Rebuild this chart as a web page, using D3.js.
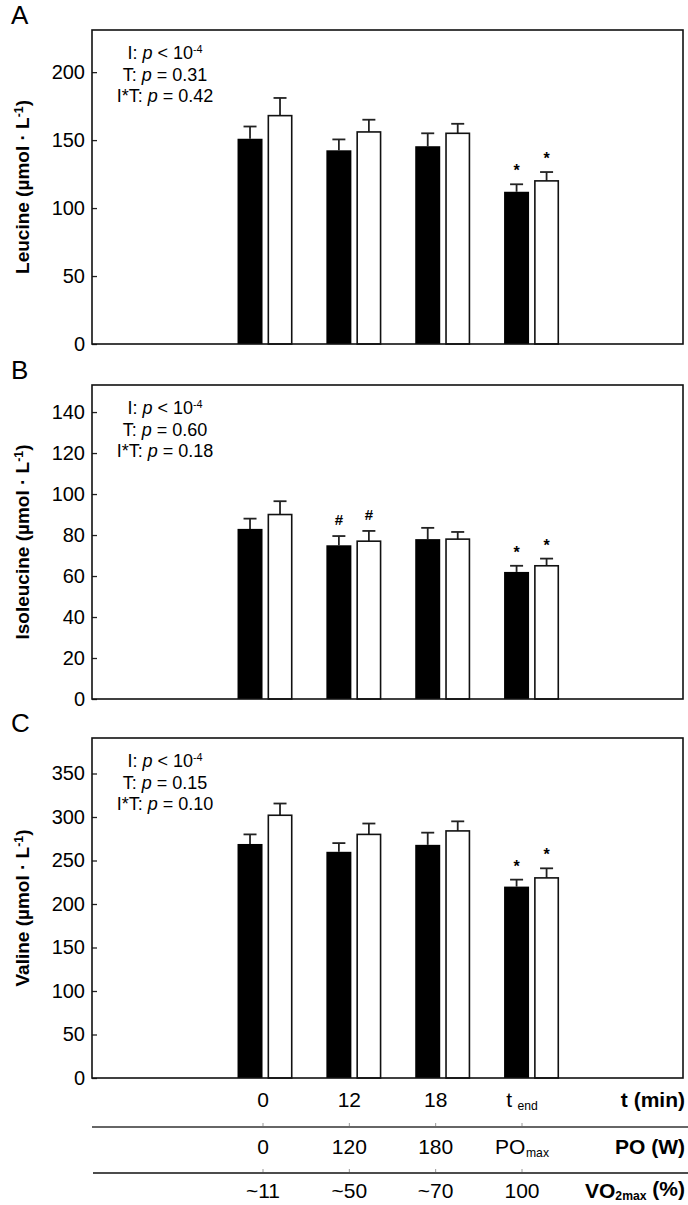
<!DOCTYPE html>
<html>
<head>
<meta charset="utf-8">
<script src="https://cdn.jsdelivr.net/npm/d3@7"></script>
<style>
  html, body { margin: 0; padding: 0; background: #fff; }
  svg { display: block; font-family: "Liberation Sans", Arial, sans-serif; }
</style>
</head>
<body>
<svg id="chart" width="688" height="1205"></svg>
<script>
// ---------- DATA ----------
const categories = ["0", "12", "18", "tend"];
const seriesNames = ["black", "white"];

// Leucine (A)
const leuBlack = [151, 142.5, 145.5, 112];
const leuBlackErr = [9, 8, 9.5, 5.5];
const leuWhite = [168, 156, 155, 120];
const leuWhiteErr = [13, 9, 7, 6.5];
const leuTicks = [0, 50, 100, 150, 200];
const leuMarksBlack = ["", "", "", "*"];
const leuMarksWhite = ["", "", "", "*"];
const leuStats = ["0.31", "0.42"];

// Isoleucine (B)
const ileBlack = [83, 75, 78, 62];
const ileBlackErr = [5, 4.5, 5.5, 3];
const ileWhite = [90, 77, 78, 65];
const ileWhiteErr = [6.5, 5, 3.5, 3.5];
const ileTicks = [0, 20, 40, 60, 80, 100, 120, 140];
const ileMarksBlack = ["", "#", "", "*"];
const ileMarksWhite = ["", "#", "", "*"];
const ileStats = ["0.60", "0.18"];

// Valine (C)
const valBlack = [269, 260, 268, 220];
const valBlackErr = [11, 10, 14, 8];
const valWhite = [302, 280, 284, 230];
const valWhiteErr = [13.5, 12.5, 11, 11];
const valTicks = [0, 50, 100, 150, 200, 250, 300, 350];
const valMarksBlack = ["", "", "", "*"];
const valMarksWhite = ["", "", "", "*"];
const valStats = ["0.15", "0.10"];

// Bottom table
const tLabels = ["0", "12", "18", "t"];
const tSubs = ["", "", "", "end"];
const poLabels = ["0", "120", "180", "PO"];
const poSubs = ["", "", "", "max"];
const vo2Labels = ["~11", "~50", "~70", "100"];

// ---------- LAYOUT ----------
const svg = d3.select("#chart");
const frameLeft = 92, frameRight = 683;

const panels = [
  { letter: "A", name: "Leucine", top: 30, bottom: 344, max: 231, ticks: leuTicks,
    black: leuBlack, blackErr: leuBlackErr, white: leuWhite, whiteErr: leuWhiteErr,
    marksB: leuMarksBlack, marksW: leuMarksWhite, stats: leuStats },
  { letter: "B", name: "Isoleucine", top: 385, bottom: 699, max: 153.2, ticks: ileTicks,
    black: ileBlack, blackErr: ileBlackErr, white: ileWhite, whiteErr: ileWhiteErr,
    marksB: ileMarksBlack, marksW: ileMarksWhite, stats: ileStats },
  { letter: "C", name: "Valine", top: 738, bottom: 1078, max: 390.8, ticks: valTicks,
    black: valBlack, blackErr: valBlackErr, white: valWhite, whiteErr: valWhiteErr,
    marksB: valMarksBlack, marksW: valMarksWhite, stats: valStats }
];

const x = d3.scaleBand().domain(categories).range([220.6, 576]).padding(0);
const xs = d3.scaleBand().domain(seriesNames).range([-27.5, 27.5]).paddingInner(1 / 6);

panels.forEach(p => {
  const g = svg.append("g");
  const y = d3.scaleLinear().domain([0, p.max]).range([p.bottom, p.top]);

  // panel letter
  g.append("text").attr("x", 11).attr("y", p.top - 6)
    .attr("font-size", 26).text(p.letter);

  // axis
  const ax = g.append("g").attr("transform", `translate(${frameLeft},0)`)
    .call(d3.axisLeft(y).tickValues(p.ticks).tickSize(-5).tickPadding(7));
  ax.select(".domain").remove();
  ax.selectAll(".tick line").attr("stroke", "#222").attr("stroke-width", 1.3);
  ax.selectAll(".tick text").attr("font-size", 20).attr("fill", "#000")
    .attr("font-family", "Liberation Sans, Arial, sans-serif");

  // y title
  const yt = g.append("text")
    .attr("transform", `translate(29,${(p.top + p.bottom) / 2}) rotate(-90)`)
    .attr("text-anchor", "middle").attr("font-size", 19).attr("font-weight", "bold");
  yt.append("tspan").text(p.name + " (µmol · L");
  yt.append("tspan").attr("dy", "-0.5em").attr("font-size", "0.65em").text("-1");
  yt.append("tspan").attr("dy", "0.32em").text(")");

  // stats
  const sx = frameLeft + 73;
  const st1 = g.append("text").attr("x", sx).attr("y", p.top + 29)
    .attr("text-anchor", "middle").attr("font-size", 18);
  st1.append("tspan").text("I: ");
  st1.append("tspan").attr("font-style", "italic").text("p");
  st1.append("tspan").text(" < 10");
  st1.append("tspan").attr("dy", "-0.55em").attr("font-size", "0.6em").text("-4");
  const labels2 = ["T: ", "I*T: "];
  p.stats.forEach((v, i) => {
    const t = g.append("text").attr("x", sx).attr("y", p.top + 50.5 + i * 21.5)
      .attr("text-anchor", "middle").attr("font-size", 18);
    t.append("tspan").text(labels2[i]);
    t.append("tspan").attr("font-style", "italic").text("p");
    t.append("tspan").text(" = " + v);
  });

  // bars
  const rows = categories.map((c, i) => ({
    c,
    vals: [
      { s: "black", v: p.black[i], e: p.blackErr[i], m: p.marksB[i] },
      { s: "white", v: p.white[i], e: p.whiteErr[i], m: p.marksW[i] }
    ]
  }));
  const grp = g.selectAll(".grp").data(rows).enter().append("g")
    .attr("transform", d => `translate(${x(d.c) + x.bandwidth() / 2},0)`);
  const item = grp.selectAll(".item").data(d => d.vals).enter().append("g");

  // error bars (upper only)
  item.append("line")
    .attr("x1", d => xs(d.s) + xs.bandwidth() / 2).attr("x2", d => xs(d.s) + xs.bandwidth() / 2)
    .attr("y1", d => y(d.v)).attr("y2", d => y(d.v + d.e))
    .attr("stroke", "#222").attr("stroke-width", 1.8);
  item.append("line")
    .attr("x1", d => xs(d.s) + xs.bandwidth() / 2 - 6.5).attr("x2", d => xs(d.s) + xs.bandwidth() / 2 + 6.5)
    .attr("y1", d => y(d.v + d.e)).attr("y2", d => y(d.v + d.e))
    .attr("stroke", "#222").attr("stroke-width", 1.8);

  item.append("rect")
    .attr("x", d => d.s === "white" ? xs(d.s) + 0.8 : xs(d.s))
    .attr("width", d => d.s === "white" ? xs.bandwidth() - 1.6 : xs.bandwidth())
    .attr("y", d => y(d.v))
    .attr("height", d => y(0) - y(d.v))
    .attr("fill", d => d.s === "black" ? "#000" : "#fff")
    .attr("stroke", d => d.s === "black" ? "none" : "#111")
    .attr("stroke-width", 1.6);

  item.filter(d => d.m).append("text")
    .attr("x", d => xs(d.s) + xs.bandwidth() / 2)
    .attr("y", d => y(d.v + d.e) - (d.m === "#" ? 11 : 8))
    .attr("text-anchor", "middle")
    .attr("font-size", d => d.m === "#" ? 15 : 16)
    .attr("font-weight", "bold")
    .text(d => d.m);

  // frame
  g.append("rect").attr("x", frameLeft).attr("y", p.top)
    .attr("width", frameRight - frameLeft).attr("height", p.bottom - p.top)
    .attr("fill", "none").attr("stroke", "#111").attr("stroke-width", 1.6);
});

// ---------- BOTTOM TABLE ----------
const tx = d3.scalePoint().domain(categories).range([263, 522]);
const tbl = svg.append("g");
const rowY = [1107, 1154, 1198];
const lineY = [1127, 1173];

tbl.append("line").attr("x1", frameLeft).attr("x2", 688).attr("y1", lineY[0]).attr("y2", lineY[0])
  .attr("stroke", "#666").attr("stroke-width", 2);
tbl.append("line").attr("x1", frameLeft + 1).attr("x2", 688).attr("y1", lineY[1]).attr("y2", lineY[1])
  .attr("stroke", "#111").attr("stroke-width", 1.5);
lineY.forEach(ly => {
  tbl.selectAll(null).data(categories).enter().append("line")
    .attr("x1", d => tx(d)).attr("x2", d => tx(d))
    .attr("y1", ly - 4).attr("y2", ly - 1)
    .attr("stroke", "#999").attr("stroke-width", 1);
});

function rowText(labels, subs, yy) {
  const t = tbl.selectAll(null).data(categories).enter().append("text")
    .attr("x", d => tx(d)).attr("y", yy).attr("text-anchor", "middle").attr("font-size", 21);
  t.append("tspan").text((d, i) => labels[i]);
  if (subs) {
    t.filter((d, i) => subs[i]).append("tspan")
      .attr("dx", (d, i) => labels[categories.indexOf(d)] === "t" ? "0.45em" : "0.05em")
      .attr("dy", "0.22em").attr("font-size", "0.58em")
      .text(d => subs[categories.indexOf(d)]);
  }
}
rowText(tLabels, tSubs, rowY[0]);
rowText(poLabels, poSubs, rowY[1]);
rowText(vo2Labels, null, rowY[2]);

tbl.append("text").attr("x", 685).attr("y", rowY[0]).attr("text-anchor", "end")
  .attr("font-size", 21).attr("font-weight", "bold").text("t (min)");
tbl.append("text").attr("x", 685).attr("y", rowY[1]).attr("text-anchor", "end")
  .attr("font-size", 21).attr("font-weight", "bold").text("PO (W)");
const vt = tbl.append("text").attr("x", 685).attr("y", rowY[2]).attr("text-anchor", "end")
  .attr("font-size", 21).attr("font-weight", "bold");
vt.append("tspan").text("VO");
vt.append("tspan").attr("dy", "0.18em").attr("font-size", "0.58em").text("2max");
vt.append("tspan").attr("dy", "-0.18em").text(" (%)");
</script>
</body>
</html>
